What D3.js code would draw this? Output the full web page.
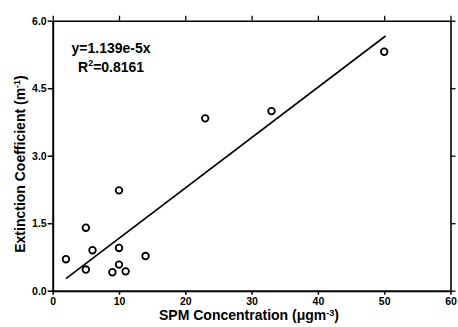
<!DOCTYPE html>
<html><head><meta charset="utf-8">
<script src="https://cdn.jsdelivr.net/npm/d3@7"></script>
<style>body{margin:0;background:#fff}svg{display:block}text{font-family:"Liberation Sans",Arial,sans-serif;font-weight:bold;fill:#000}</style>
</head><body><svg id="c" width="458" height="327"></svg>
<script>
const spm = [2, 5, 5, 6, 9, 10, 10, 10, 11, 14, 23, 33, 50];
const extinction = [0.70, 1.40, 0.47, 0.90, 0.41, 2.23, 0.95, 0.58, 0.43, 0.77, 3.83, 3.99, 5.31];
const fitX = [2, 50.2];
const fitY = [0.27, 5.66];
const xTicks = [0, 10, 20, 30, 40, 50, 60];
const yTicks = [0.0, 1.5, 3.0, 4.5, 6.0];
const eqText = "y=1.139e-5x";
const r2Text = "=0.8161";

const svg = d3.select("#c");
const x = d3.scaleLinear().domain([0, 60]).range([52.7, 450.5]);
const y = d3.scaleLinear().domain([0, 6]).range([290.7, 20.7]);

const gx = svg.append("g").attr("transform", `translate(0,${y(0)})`)
  .call(d3.axisBottom(x).tickValues(xTicks).tickFormat(d3.format("d")).tickSize(4).tickPadding(3).tickSizeOuter(0));
const gy = svg.append("g").attr("transform", `translate(${x(0)},0)`)
  .call(d3.axisLeft(y).tickValues(yTicks).tickFormat(d3.format(".1f")).tickSize(5).tickPadding(1).tickSizeOuter(0));
const gt = svg.append("g").attr("transform", `translate(0,${y(6)})`)
  .call(d3.axisTop(x).tickValues(xTicks).tickFormat("").tickSize(5).tickSizeOuter(0));
const gr = svg.append("g").attr("transform", `translate(${x(60)},0)`)
  .call(d3.axisRight(y).tickValues(yTicks).tickFormat("").tickSize(5).tickSizeOuter(0));

[gx, gy].forEach(g => {
  g.select(".domain").attr("stroke", "#000").attr("stroke-width", 2);
  g.selectAll(".tick line").attr("stroke", "#000").attr("stroke-width", 1.5);
  g.selectAll(".tick text").attr("font-size", 10.5).attr("font-weight", "bold").attr("font-family", "Liberation Sans, Arial, sans-serif").attr("fill", "#000");
});
[gt, gr].forEach(g => {
  g.select(".domain").attr("stroke", "#000").attr("stroke-width", 1.6);
  g.selectAll(".tick line").attr("stroke", "#000").attr("stroke-width", 1.3);
});

svg.append("line")
  .attr("x1", x(fitX[0])).attr("y1", y(fitY[0]))
  .attr("x2", x(fitX[1])).attr("y2", y(fitY[1]))
  .attr("stroke", "#000").attr("stroke-width", 1.6);

svg.append("g").selectAll("circle").data(spm.map((d, i) => [d, extinction[i]]))
  .join("circle")
  .attr("cx", d => x(d[0])).attr("cy", d => y(d[1])).attr("r", 3.3)
  .attr("fill", "none").attr("stroke", "#000").attr("stroke-width", 1.8);

svg.append("text").attr("x", 71.5).attr("y", 53).attr("font-size", 14).text(eqText);
const r2 = svg.append("text").attr("x", 78).attr("y", 72).attr("font-size", 14);
r2.append("tspan").text("R");
r2.append("tspan").attr("dy", -6).attr("font-size", 9).text("2");
r2.append("tspan").attr("dy", 6).text(r2Text);

const xt = svg.append("text").attr("x", 249).attr("y", 320).attr("text-anchor", "middle").attr("font-size", 14);
xt.append("tspan").text("SPM Concentration (μgm");
xt.append("tspan").attr("dy", -4).attr("font-size", 9).text("-3");
xt.append("tspan").attr("dy", 4).text(")");

const yt = svg.append("text").attr("transform", "translate(25,164) rotate(-90)").attr("text-anchor", "middle").attr("font-size", 14);
yt.append("tspan").text("Extinction Coefficient (m");
yt.append("tspan").attr("dy", -5).attr("font-size", 9).text("-1");
yt.append("tspan").attr("dy", 5).text(")");
</script></body></html>
